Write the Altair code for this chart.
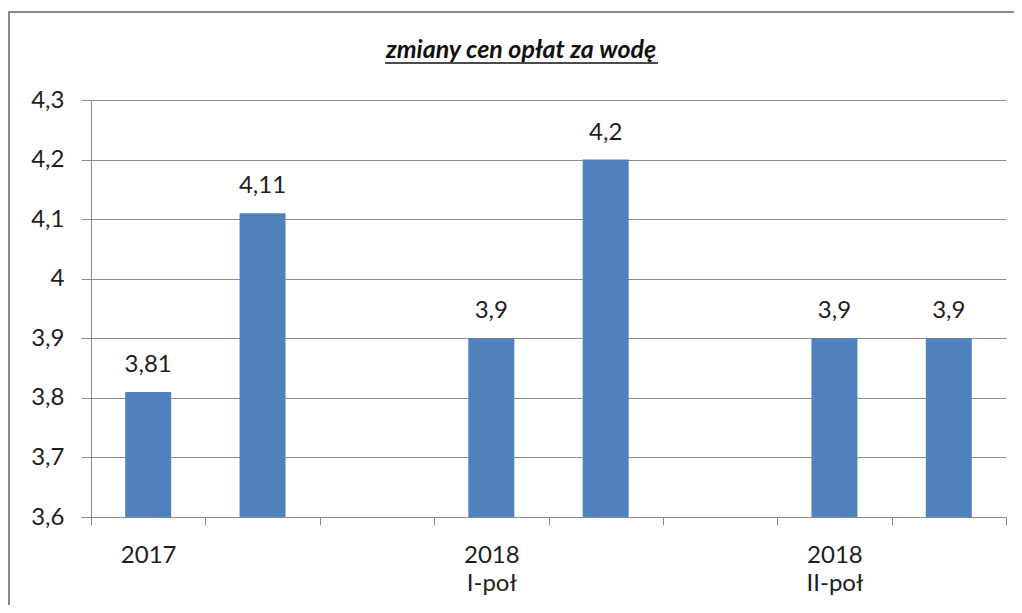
import json
import altair as alt
import pandas as pd

title_text = "zmiany cen opłat za wodę"
categories = ["s0", "s1", "s2", "s3", "s4", "s5", "s6", "s7"]
tick_labels = ["2017", "", "", "2018\nI-poł", "", "", "2018\nII-poł", ""]
values = [3.81, 4.11, None, 3.9, 4.2, None, 3.9, 3.9]
y_ticks = [3.6, 3.7, 3.8, 3.9, 4.0, 4.1, 4.2, 4.3]

rows = [{"slot": c, "value": v} for c, v in zip(categories, values) if v is not None]
df = pd.DataFrame(rows)

FONT = "Lato"
GRAY = "#8c8c8c"
TEXT = "#1e1e1e"

cats_js = json.dumps(categories)
labs_js = json.dumps(tick_labels, ensure_ascii=False)
label_expr = (
    f"indexof({cats_js}, datum.value) < 0 ? '' : "
    f"split({labs_js}[indexof({cats_js}, datum.value)], '\\n')"
)

x = alt.X(
    "slot:N",
    title=None,
    scale=alt.Scale(domain=categories, paddingInner=0, paddingOuter=0),
    axis=alt.Axis(
        labelAngle=0, labelExpr=label_expr, tickBand="extent",
        domainColor=GRAY, tickColor=GRAY, tickSize=8, labelPadding=18,
        labelFont=FONT, labelFontSize=24, labelColor=TEXT, labelLineHeight=28,
        grid=False,
    ),
)
y = alt.Y(
    "value:Q",
    title=None,
    scale=alt.Scale(domain=[3.6, 4.3], zero=False, nice=False),
    axis=alt.Axis(
        values=y_ticks,
        labelExpr="replace(format(datum.value, '.1~f'), '.', ',')",
        grid=True, gridColor=GRAY, domainColor=GRAY, tickColor=GRAY,
        tickSize=10, labelPadding=17, labelFont=FONT, labelFontSize=24,
        labelColor=TEXT,
    ),
)

one = alt.Data(values=[{"k": 1}])

frame = alt.Chart(one).mark_rect(fillOpacity=0, stroke="#8a8a8a", strokeWidth=2).encode(
    x=alt.value(9 - 91), y=alt.value(12 - 100), x2=alt.value(1200), y2=alt.value(700)
)

bars = alt.Chart(df).mark_bar(color="#4F81BD", width=alt.RelativeBandSize(0.402)).encode(
    x=x, y=y, y2=alt.datum(3.6)
)

labels = alt.Chart(df).transform_calculate(
    lab="replace(format(datum.value, '.2~f'), '.', ',')"
).mark_text(font=FONT, fontSize=24, dy=-20, baseline="alphabetic", color=TEXT).encode(
    x=x, y=y, text="lab:N"
)

title = alt.Chart(one).mark_text(
    text=title_text, font=FONT, fontSize=25, fontWeight="bold", fontStyle="italic",
    align="center", baseline="alphabetic", color="#111111",
).encode(x=alt.value(521 - 91), y=alt.value(58 - 100))

underline = alt.Chart(one).mark_rule(color="#111111", strokeWidth=1.5).encode(
    x=alt.value(385 - 91), x2=alt.value(658 - 91), y=alt.value(63 - 100)
)

chart = alt.layer(frame, bars, labels, title, underline).properties(
    width=915, height=417,
    autosize=alt.AutoSizeParams(type="none"),
    padding={"left": 83, "top": 92, "right": 8, "bottom": 88},
    background="white",
).configure_view(stroke=None)

chart.save("out.html", embed_options={"renderer": "svg", "actions": False})
